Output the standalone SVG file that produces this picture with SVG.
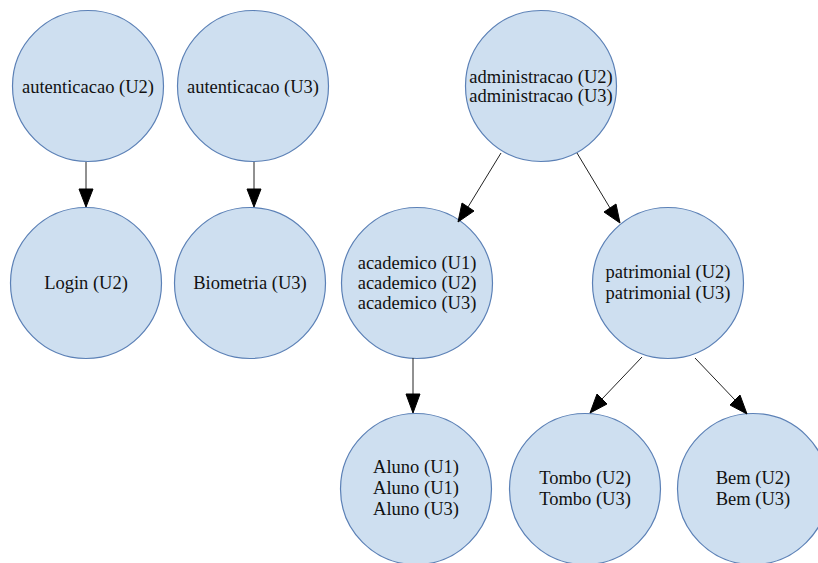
<svg xmlns="http://www.w3.org/2000/svg" width="818" height="563" viewBox="0 0 818 563">
<style>
.n circle{fill:#cedff0;stroke:#5b80b6;stroke-width:1.2}
.n text{font-size:18.5px;fill:#111;text-anchor:middle}
.e line{stroke:#222;stroke-width:1}
.e polygon{fill:#000;stroke:#000}
</style>
<rect width="818" height="563" fill="#fff"/>
<g font-family="'Liberation Serif', 'DejaVu Serif', 'Times New Roman', serif">
<g id="n_aut2" class="n"><circle cx="88" cy="86" r="75.5"/><text x="88" y="93">autenticacao (U2)</text></g>
<g id="n_aut3" class="n"><circle cx="253" cy="86" r="75.5"/><text x="253" y="93">autenticacao (U3)</text></g>
<g id="n_adm" class="n"><circle cx="541" cy="86" r="75.5"/><text x="541" y="83">administracao (U2)</text><text x="541" y="102">administracao (U3)</text></g>
<g id="n_login" class="n"><circle cx="86" cy="283" r="75.5"/><text x="86" y="289">Login (U2)</text></g>
<g id="n_bio" class="n"><circle cx="250" cy="283" r="75.5"/><text x="250" y="289">Biometria (U3)</text></g>
<g id="n_acad" class="n"><circle cx="417" cy="283" r="75.5"/><text x="417" y="269">academico (U1)</text><text x="417" y="289">academico (U2)</text><text x="417" y="309">academico (U3)</text></g>
<g id="n_pat" class="n"><circle cx="668" cy="283" r="75.5"/><text x="668" y="278">patrimonial (U2)</text><text x="668" y="298.5">patrimonial (U3)</text></g>
<g id="n_aluno" class="n"><circle cx="416" cy="489" r="75.5"/><text x="416" y="473">Aluno (U1)</text><text x="416" y="494">Aluno (U1)</text><text x="416" y="515">Aluno (U3)</text></g>
<g id="n_tombo" class="n"><circle cx="585" cy="489" r="75.5"/><text x="585" y="484">Tombo (U2)</text><text x="585" y="505">Tombo (U3)</text></g>
<g id="n_bem" class="n"><circle cx="753" cy="489" r="75.5"/><text x="753" y="484">Bem (U2)</text><text x="753" y="505">Bem (U3)</text></g>
</g>
<g id="edges" class="e">
<line x1="86" y1="162" x2="86" y2="189"/><polygon points="79,189 93,189 86,207"/>
<line x1="254" y1="162" x2="254" y2="189"/><polygon points="247,189 261,189 254,207"/>
<line x1="413" y1="358" x2="413" y2="394"/><polygon points="406,394 420,394 413,413"/>
<line x1="501" y1="153" x2="468" y2="207"/><polygon points="462,203 474,211 458,222"/>
<line x1="577" y1="153" x2="610" y2="208"/><polygon points="604,212 616,204 620,223"/>
<line x1="642" y1="357" x2="602" y2="399"/><polygon points="597,394 607,404 590,413"/>
<line x1="695" y1="358" x2="735" y2="400"/><polygon points="730,405 740,395 747,414"/>
</g>
</svg>
